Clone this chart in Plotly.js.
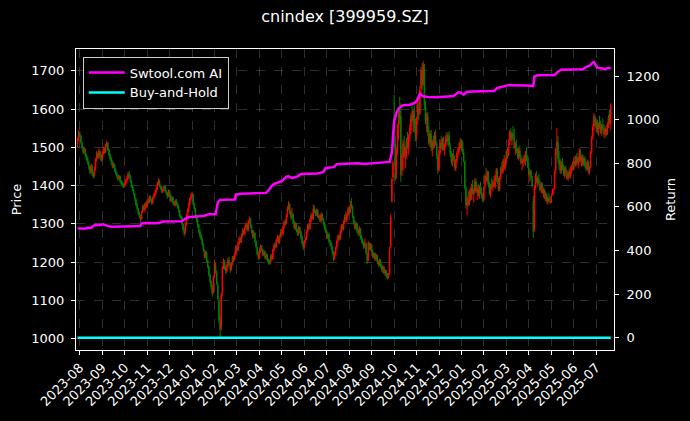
<!DOCTYPE html>
<html><head><meta charset="utf-8">
<script src="https://cdn.plot.ly/plotly-3.0.1.min.js"></script>
<style>html,body{margin:0;padding:0;background:#000;}#chart{width:690px;height:421px;}</style>
</head><body><div id="chart"></div>
<script>
// Daily OHLC of cnindex [399959.SZ], one value per trading day (index order)
const openP = [
1508,1520,1537,1529,1510,1499,1486,1494,1477,1471,
1460,1447,1437,1451,1431,1426,1445,1467,1483,1474,
1489,1477,1467,1484,1497,1487,1504,1511,1493,1481,
1471,1461,1449,1454,1441,1431,1426,1417,1423,1411,
1404,1401,1399,1405,1413,1419,1431,1425,1411,1399,
1389,1377,1364,1351,1339,1329,1321,1313,1331,1346,
1337,1353,1344,1361,1357,1371,1361,1354,1369,1374,
1383,1391,1404,1413,1399,1396,1384,1391,1399,1385,
1381,1373,1386,1374,1361,1369,1354,1349,1361,1351,
1346,1334,1321,1317,1299,1284,1276,1299,1321,1336,
1351,1364,1373,1377,1351,1339,1321,1311,1296,1281,
1271,1261,1247,1231,1214,1224,1204,1189,1167,1149,
1133,1120,1162,1192,1172,1140,1100,1045,1030,1118,
1190,1201,1186,1177,1191,1204,1197,1181,1196,1213,
1209,1223,1241,1231,1249,1263,1254,1269,1283,1274,
1291,1299,1284,1304,1313,1294,1281,1267,1276,1254,
1239,1223,1211,1229,1241,1231,1219,1227,1211,1219,
1206,1201,1199,1216,1209,1231,1246,1239,1257,1266,
1253,1269,1281,1274,1293,1306,1301,1323,1341,1351,
1331,1317,1326,1304,1289,1301,1281,1274,1291,1279,
1266,1251,1239,1256,1263,1279,1296,1287,1309,1323,
1314,1341,1331,1324,1336,1317,1321,1307,1326,1314,
1301,1289,1281,1264,1273,1254,1249,1239,1226,1211,
1221,1239,1256,1269,1261,1279,1296,1287,1304,1319,
1311,1324,1341,1331,1351,1344,1319,1306,1289,1301,
1283,1274,1287,1266,1257,1251,1241,1249,1222,1206,
1249,1237,1246,1227,1214,1223,1207,1217,1201,1194,
1204,1189,1181,1187,1173,1177,1164,1160,1170,1240,
1360,1422,1580,1510,1430,1495,1550,1600,1580,1440,
1475,1505,1478,1490,1512,1498,1530,1548,1585,1568,
1590,1548,1532,1578,1605,1590,1655,1700,1670,1705,
1605,1572,1580,1538,1510,1532,1495,1512,1502,1530,
1508,1476,1442,1488,1510,1498,1518,1494,1506,1524,
1516,1530,1503,1478,1460,1478,1468,1446,1466,1487,
1494,1512,1498,1512,1485,1462,1392,1348,1362,1350,
1383,1366,1398,1378,1386,1410,1383,1390,1374,1395,
1380,1368,1365,1400,1424,1413,1433,1398,1378,1400,
1396,1408,1398,1423,1438,1408,1390,1422,1443,1436,
1463,1446,1472,1488,1480,1518,1538,1520,1534,1526,
1498,1505,1488,1476,1492,1473,1458,1463,1468,1460,
1483,1468,1448,1428,1436,1418,1360,1285,1398,1422,
1410,1418,1403,1388,1403,1380,1388,1368,1376,1358,
1366,1360,1356,1376,1385,1392,1440,1500,1512,1468,
1453,1438,1458,1443,1428,1444,1430,1418,1433,1423,
1440,1448,1443,1463,1453,1473,1458,1468,1488,1463,
1473,1456,1470,1450,1443,1460,1436,1448,1488,1528,
1555,1578,1556,1568,1540,1558,1553,1538,1556,1548,
1533,1546,1536,1558,1595,1562
];
const highP = [
1526,1546,1542,1532,1514,1503,1500,1497,1482,1476,
1464,1452,1458,1455,1436,1450,1472,1490,1487,1498,
1492,1482,1490,1502,1500,1510,1518,1514,1497,1484,
1475,1466,1460,1458,1445,1436,1430,1428,1426,1414,
1410,1406,1410,1418,1425,1436,1438,1428,1414,1402,
1392,1380,1368,1355,1342,1332,1324,1334,1350,1350,
1356,1358,1364,1366,1374,1374,1365,1372,1380,1388,
1398,1410,1420,1416,1403,1400,1394,1402,1401,1390,
1384,1390,1388,1378,1372,1372,1360,1364,1365,1356,
1350,1338,1326,1320,1302,1290,1302,1325,1340,1356,
1370,1380,1384,1379,1355,1342,1325,1315,1300,1286,
1275,1265,1250,1235,1230,1228,1208,1192,1170,1152,
1140,1165,1206,1200,1178,1148,1110,1060,1120,1190,
1210,1206,1192,1196,1212,1214,1200,1200,1216,1218,
1228,1246,1244,1255,1268,1266,1275,1288,1287,1295,
1304,1302,1310,1319,1316,1298,1284,1284,1278,1258,
1242,1228,1234,1246,1245,1235,1232,1230,1224,1222,
1210,1206,1220,1222,1236,1250,1252,1262,1272,1268,
1272,1286,1288,1296,1310,1312,1326,1346,1360,1355,
1335,1342,1328,1310,1305,1303,1288,1295,1293,1282,
1270,1256,1258,1266,1284,1300,1302,1315,1328,1330,
1350,1348,1336,1340,1338,1326,1323,1330,1328,1317,
1305,1296,1284,1278,1276,1258,1252,1242,1230,1228,
1242,1260,1272,1274,1285,1300,1300,1310,1325,1333,
1330,1346,1345,1360,1367,1348,1322,1310,1305,1304,
1290,1295,1290,1270,1262,1255,1262,1252,1226,1255,
1252,1250,1248,1232,1226,1225,1222,1220,1205,1210,
1208,1196,1192,1190,1182,1180,1172,1172,1240,1326,
1420,1465,1637,1530,1500,1560,1600,1632,1615,1485,
1520,1530,1500,1525,1540,1535,1560,1590,1616,1600,
1612,1575,1580,1628,1620,1660,1710,1720,1725,1718,
1620,1590,1592,1555,1545,1545,1520,1530,1540,1545,
1515,1482,1495,1520,1530,1525,1528,1510,1532,1540,
1538,1542,1512,1490,1485,1495,1480,1470,1490,1500,
1515,1524,1520,1518,1495,1465,1400,1372,1385,1390,
1395,1405,1415,1392,1420,1418,1398,1405,1400,1410,
1395,1380,1400,1430,1446,1440,1438,1410,1405,1420,
1415,1425,1430,1446,1445,1420,1425,1450,1460,1470,
1480,1475,1495,1500,1520,1545,1550,1540,1556,1548,
1515,1520,1498,1500,1505,1482,1470,1478,1480,1490,
1500,1478,1460,1442,1442,1425,1372,1400,1432,1438,
1425,1430,1412,1410,1408,1395,1392,1385,1380,1372,
1380,1372,1375,1392,1392,1440,1500,1550,1530,1490,
1470,1465,1472,1455,1450,1452,1440,1438,1445,1448,
1455,1462,1470,1478,1480,1485,1475,1498,1495,1480,
1482,1478,1475,1462,1468,1465,1450,1490,1530,1560,
1590,1585,1575,1572,1565,1582,1570,1562,1575,1560,
1552,1558,1565,1585,1600,1615
];
const lowP = [
1500,1516,1525,1508,1495,1482,1483,1474,1465,1455,
1442,1430,1432,1424,1418,1422,1440,1462,1470,1470,
1472,1462,1464,1480,1484,1484,1500,1490,1476,1465,
1455,1445,1446,1436,1428,1420,1412,1414,1405,1400,
1396,1394,1395,1400,1408,1415,1420,1408,1394,1386,
1374,1360,1346,1335,1322,1315,1305,1310,1328,1334,
1330,1340,1342,1352,1354,1358,1350,1352,1365,1370,
1378,1388,1400,1396,1390,1380,1380,1386,1382,1374,
1366,1370,1370,1358,1356,1350,1346,1346,1348,1340,
1330,1316,1312,1296,1280,1267,1272,1295,1316,1330,
1345,1360,1368,1348,1335,1315,1305,1290,1275,1264,
1258,1244,1228,1210,1210,1200,1185,1162,1145,1128,
1110,1118,1158,1170,1140,1100,1040,1003,1022,1110,
1182,1180,1168,1172,1185,1192,1172,1178,1192,1200,
1205,1218,1228,1228,1245,1250,1250,1265,1270,1270,
1285,1280,1280,1300,1290,1276,1262,1262,1250,1235,
1218,1205,1208,1224,1228,1216,1215,1208,1206,1200,
1195,1193,1196,1205,1206,1228,1236,1236,1252,1248,
1248,1264,1270,1270,1288,1296,1298,1318,1336,1325,
1312,1312,1300,1285,1285,1278,1268,1270,1275,1260,
1246,1232,1236,1250,1258,1275,1284,1284,1305,1310,
1310,1328,1320,1320,1315,1312,1304,1304,1310,1296,
1285,1276,1260,1260,1250,1242,1232,1220,1203,1206,
1218,1235,1250,1256,1258,1275,1282,1284,1300,1305,
1305,1320,1325,1328,1340,1315,1298,1285,1285,1276,
1268,1270,1260,1250,1246,1235,1236,1220,1195,1203,
1232,1230,1225,1210,1210,1203,1204,1196,1188,1190,
1185,1175,1172,1168,1164,1158,1155,1157,1167,1236,
1356,1412,1500,1412,1418,1480,1520,1560,1410,1425,
1440,1470,1445,1470,1495,1480,1515,1535,1560,1540,
1540,1516,1520,1560,1570,1585,1640,1650,1660,1600,
1560,1540,1530,1505,1500,1490,1476,1495,1498,1505,
1470,1430,1436,1480,1495,1490,1492,1478,1500,1510,
1505,1500,1475,1455,1450,1465,1440,1437,1458,1475,
1485,1495,1490,1482,1460,1390,1340,1322,1345,1348,
1360,1362,1375,1355,1380,1380,1362,1370,1365,1378,
1365,1356,1360,1392,1410,1405,1395,1375,1368,1390,
1385,1395,1392,1410,1405,1385,1386,1415,1430,1430,
1440,1440,1460,1470,1476,1505,1515,1505,1520,1495,
1480,1485,1470,1465,1470,1455,1440,1450,1455,1452,
1465,1445,1425,1410,1415,1395,1263,1280,1390,1405,
1396,1400,1385,1380,1378,1368,1365,1360,1355,1350,
1358,1352,1354,1374,1378,1390,1432,1480,1460,1440,
1430,1432,1440,1425,1420,1425,1415,1412,1420,1418,
1430,1438,1440,1450,1448,1455,1445,1462,1460,1450,
1452,1450,1448,1438,1440,1432,1428,1445,1482,1520,
1545,1550,1540,1535,1530,1548,1535,1530,1545,1526,
1524,1530,1532,1550,1560,1545
];
const closeP = [
1522,1538,1530,1512,1500,1488,1495,1478,1470,1462,
1448,1436,1452,1430,1425,1444,1468,1482,1475,1490,
1478,1466,1485,1496,1488,1505,1512,1494,1480,1470,
1462,1450,1455,1440,1432,1425,1418,1424,1410,1405,
1402,1398,1406,1412,1420,1430,1426,1412,1398,1390,
1378,1365,1350,1340,1328,1322,1312,1330,1345,1338,
1352,1345,1360,1358,1370,1362,1355,1368,1375,1382,
1392,1405,1412,1400,1395,1385,1390,1398,1386,1380,
1372,1385,1375,1362,1368,1355,1350,1360,1352,1345,
1335,1320,1318,1300,1285,1275,1298,1320,1335,1350,
1365,1372,1378,1352,1340,1320,1312,1295,1280,1270,
1262,1248,1232,1215,1225,1205,1190,1168,1150,1135,
1118,1160,1195,1175,1145,1105,1048,1025,1115,1185,
1200,1185,1176,1190,1205,1198,1180,1195,1212,1208,
1222,1240,1232,1250,1262,1255,1270,1282,1275,1290,
1298,1285,1305,1312,1295,1280,1268,1275,1255,1240,
1222,1212,1228,1240,1232,1220,1226,1212,1218,1205,
1200,1198,1215,1210,1232,1245,1240,1258,1265,1252,
1268,1280,1275,1292,1305,1300,1322,1340,1352,1330,
1318,1325,1305,1290,1300,1282,1275,1290,1280,1265,
1250,1240,1255,1262,1280,1295,1288,1310,1322,1315,
1340,1332,1325,1335,1318,1320,1308,1325,1315,1300,
1290,1280,1265,1272,1255,1248,1240,1225,1212,1220,
1238,1255,1268,1262,1280,1295,1288,1305,1318,1310,
1325,1340,1332,1350,1345,1320,1305,1290,1300,1282,
1275,1288,1265,1258,1250,1240,1250,1225,1205,1250,
1238,1245,1228,1215,1222,1208,1218,1200,1195,1205,
1190,1180,1188,1172,1178,1165,1160,1168,1235,1320,
1416,1460,1540,1420,1492,1548,1585,1575,1430,1478,
1510,1480,1495,1515,1500,1528,1550,1580,1570,1595,
1550,1530,1575,1610,1585,1650,1700,1665,1712,1610,
1570,1585,1540,1512,1535,1498,1515,1500,1532,1510,
1478,1440,1490,1512,1500,1520,1495,1505,1525,1515,
1532,1505,1480,1462,1480,1470,1448,1465,1485,1495,
1510,1500,1515,1488,1465,1395,1350,1365,1352,1385,
1368,1400,1380,1388,1412,1385,1392,1375,1396,1382,
1370,1362,1395,1425,1415,1435,1400,1380,1402,1395,
1410,1400,1425,1440,1410,1392,1420,1445,1438,1465,
1448,1470,1490,1478,1515,1540,1522,1535,1528,1500,
1508,1490,1478,1495,1475,1460,1465,1470,1462,1485,
1470,1450,1430,1438,1420,1400,1280,1395,1425,1412,
1420,1405,1390,1405,1382,1390,1370,1378,1360,1368,
1362,1358,1370,1388,1390,1435,1495,1515,1470,1455,
1440,1460,1445,1430,1446,1432,1420,1435,1425,1442,
1450,1445,1465,1455,1475,1460,1470,1490,1465,1475,
1458,1472,1452,1445,1462,1438,1445,1485,1525,1552,
1580,1558,1570,1542,1560,1555,1540,1558,1550,1535,
1548,1538,1560,1580,1565,1608
];

// Strategy cumulative return (bar index, value)
const retIdx = [0,6,9,12,14,16,20,23,26,30,40,50,56,57,60,70,74,76,85,93,96,99,106,112,117,123,125,127,140,141,146,160,168,170,172,175,178,182,186,188,191,196,199,214,219,221,228,231,239,250,255,262,270,277,278,280,281,282,284,286,290,296,300,302,305,308,312,320,330,335,339,341,344,347,360,371,374,380,384,400,406,407,410,425,428,431,450,454,456,459,460,463,466,470,473,475];
const retVal = [502,500,504,503,512,518,517,520,514,509,510,511,512,524,526,525,528,533,532,534,546,553,556,558,566,566,622,632,634,656,660,661,664,675,690,705,712,718,738,740,732,740,751,753,760,778,782,795,798,800,796,799,803,803,806,850,930,990,1030,1052,1066,1068,1075,1084,1118,1107,1104,1103,1106,1108,1124,1124,1114,1128,1130,1131,1145,1152,1158,1157,1155,1198,1203,1205,1220,1229,1231,1244,1246,1262,1264,1238,1234,1232,1238,1236];

// Buy-and-hold return (flat at zero)
const bhIdx = [0, 475];
const bhVal = [0, 0];

const tickLabels = ['2023-08','2023-09','2023-10','2023-11','2023-12','2024-01','2024-02','2024-03','2024-04','2024-05','2024-06','2024-07','2024-08','2024-09','2024-10','2024-11','2024-12','2025-01','2025-02','2025-03','2025-04','2025-05','2025-06','2025-07'];

const idx = closeP.map((_, i) => i);
const tickVals = tickLabels.map((_, k) => 2 + 20 * k);

const gridC = 'rgba(200,200,200,0.33)';
const traces = [
  {type:'candlestick', x: idx, open: openP, high: highP, low: lowP, close: closeP,
   xaxis:'x', yaxis:'y', showlegend:false, hoverinfo:'skip', whiskerwidth:0,
   increasing:{line:{color:'#ff0000', width:1}, fillcolor:'#ff0000'},
   decreasing:{line:{color:'#008000', width:1}, fillcolor:'#008000'}},
  {type:'scatter', mode:'lines', x: retIdx, y: retVal, yaxis:'y2', name:'Swtool.com AI',
   line:{color:'#ff00ff', width:2.5}},
  {type:'scatter', mode:'lines', x: bhIdx, y: bhVal, yaxis:'y2', name:'Buy-and-Hold',
   line:{color:'#00ffff', width:2.5}}
];

const layout = {
  width:690, height:421,
  paper_bgcolor:'#000', plot_bgcolor:'#000',
  font:{family:'DejaVu Sans', size:13, color:'#ffffff'},
  margin:{l:76, r:76, t:49, b:71, pad:0},
  title:{text:'cnindex [399959.SZ]', x:0.5, xanchor:'center', y:0.96, yanchor:'middle', font:{size:16, color:'#ffffff'}},
  showlegend:true,
  legend:{x:0.0125, y:0.975, xanchor:'left', yanchor:'top', bgcolor:'rgba(0,0,0,0.85)', bordercolor:'#cccccc', borderwidth:1, font:{size:13, color:'#ffffff'}, itemwidth:36, tracegroupgap:0},
  xaxis:{range:[-1.4, 477.9], tickmode:'array', tickvals:tickVals, ticktext:tickLabels, tickangle:-45,
    showgrid:true, gridcolor:gridC, griddash:'dash', gridwidth:0.7,
    showline:true, linecolor:'#ffffff', linewidth:1, mirror:true,
    ticks:'outside', ticklen:4, tickcolor:'#ffffff', zeroline:false, rangeslider:{visible:false}},
  yaxis:{range:[970.8, 1756.7], tickmode:'linear', tick0:1000, dtick:100,
    title:{text:'Price', font:{size:13}, standoff:6},
    ticklabelstandoff:4,
    showgrid:true, gridcolor:gridC, griddash:'dash', gridwidth:0.7,
    showline:true, linecolor:'#ffffff', linewidth:1, mirror:true,
    ticks:'outside', ticklen:4, tickcolor:'#ffffff', zeroline:false},
  yaxis2:{overlaying:'y', side:'right', range:[-56.4, 1323.8], tickmode:'linear', tick0:0, dtick:200,
    title:{text:'Return', font:{size:13}, standoff:7},
    ticklabelstandoff:5,
    showgrid:false, showline:true, linecolor:'#ffffff', linewidth:1,
    ticks:'outside', ticklen:4, tickcolor:'#ffffff', zeroline:false}
};

Plotly.newPlot('chart', traces, layout, {displayModeBar:false, staticPlot:true});
</script>
</body></html>
